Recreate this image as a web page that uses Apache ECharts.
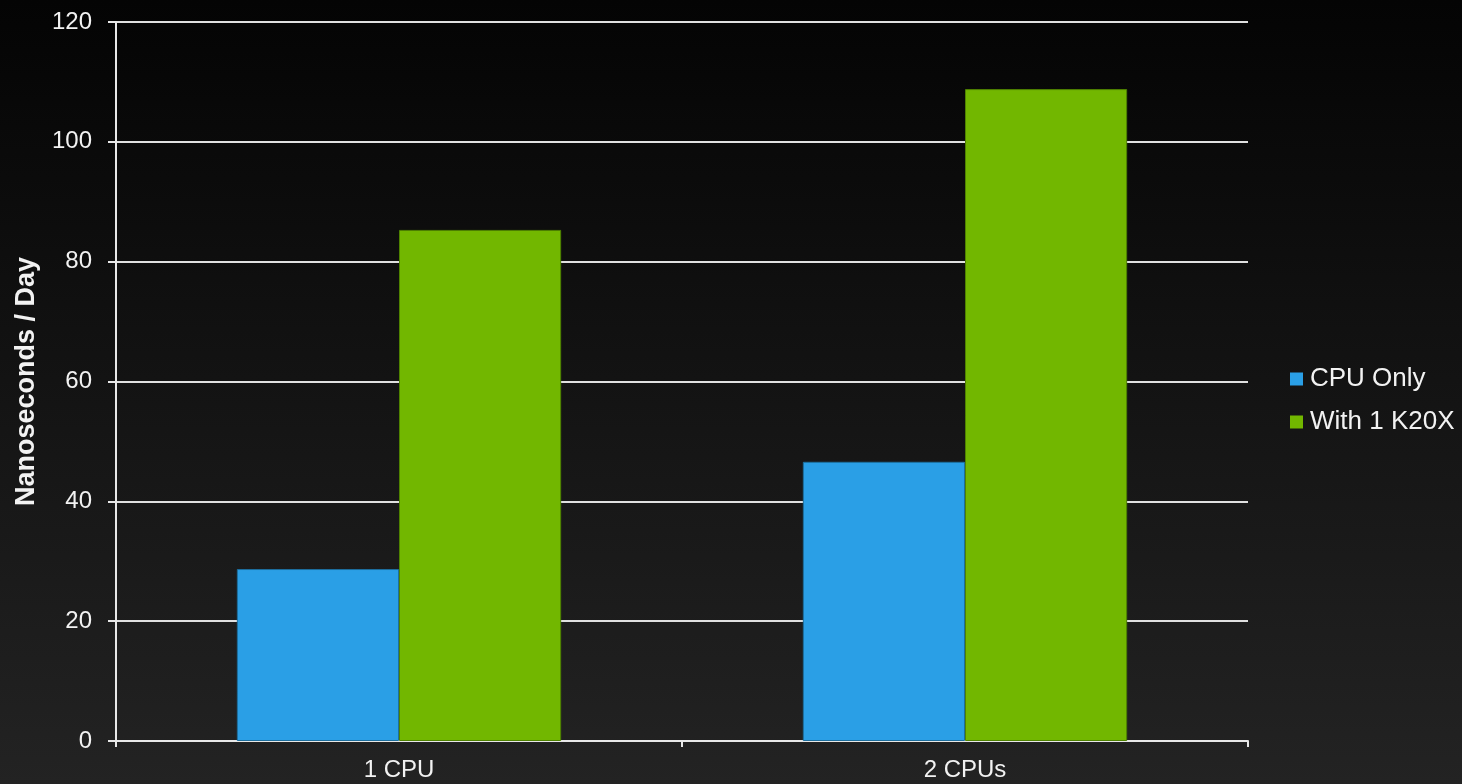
<!DOCTYPE html>
<html>
<head>
<meta charset="utf-8">
<script src="https://cdn.jsdelivr.net/npm/echarts@6/dist/echarts.min.js"></script>
<style>
html,body{margin:0;padding:0;width:1462px;height:784px;overflow:hidden;}
#c{width:1462px;height:784px;background:linear-gradient(to bottom,#040404 0%,#232323 100%);}
</style>
</head>
<body>
<div id="c"></div>
<script>
const categories = ['1 CPU', '2 CPUs'];
const cpuOnly = [28.7, 46.6];
const withK20X = [85.3, 108.8];
const seriesNames = ['CPU Only', 'With 1 K20X'];
const yAxisName = 'Nanoseconds / Day';

const chart = echarts.init(document.getElementById('c'), null, {renderer: 'canvas'});
const font = '"Liberation Sans", Arial, sans-serif';
chart.setOption({
  backgroundColor: 'transparent',
  animation: false,
  grid: {left: 116, right: 214, top: 22, bottom: 43, containLabel: false},
  legend: {
    orient: 'vertical',
    left: 1285,
    top: 361,
    itemWidth: 13,
    itemHeight: 13,
    itemGap: 17,
    icon: 'rect',
    itemStyle: {borderWidth: 0},
    textStyle: {color: '#f2f2f2', fontSize: 26, fontFamily: font, padding: [0, 0, 0, 2]},
    data: seriesNames
  },
  xAxis: {
    type: 'category',
    data: categories,
    axisLine: {lineStyle: {color: '#e8e8e8', width: 2}},
    axisTick: {show: true, length: 6, lineStyle: {color: '#e8e8e8', width: 2}},
    axisLabel: {color: '#f2f2f2', fontSize: 24, fontFamily: font, margin: 17},
    splitLine: {show: false}
  },
  yAxis: {
    type: 'value',
    min: 0, max: 120, interval: 20,
    name: yAxisName,
    nameLocation: 'middle',
    nameGap: 76,
    nameTextStyle: {color: '#f2f2f2', fontSize: 27, fontWeight: 'bold', fontFamily: font},
    axisLine: {show: true, lineStyle: {color: '#e8e8e8', width: 2}},
    axisTick: {show: true, length: 8, lineStyle: {color: '#e8e8e8', width: 2}},
    axisLabel: {color: '#f2f2f2', fontSize: 24, fontFamily: font, margin: 24},
    splitLine: {show: true, lineStyle: {color: '#e0e0e0', width: 2}}
  },
  series: [
    {
      name: seriesNames[0], type: 'bar', data: cpuOnly,
      barGap: '0%', barCategoryGap: '42.7%',
      itemStyle: {color: '#2a9fe6', borderColor: '#1d6f9e', borderWidth: 1}
    },
    {
      name: seriesNames[1], type: 'bar', data: withK20X,
      barGap: '0%', barCategoryGap: '42.7%',
      itemStyle: {color: '#72b700', borderColor: '#4f8200', borderWidth: 1}
    }
  ]
});
</script>
</body>
</html>
